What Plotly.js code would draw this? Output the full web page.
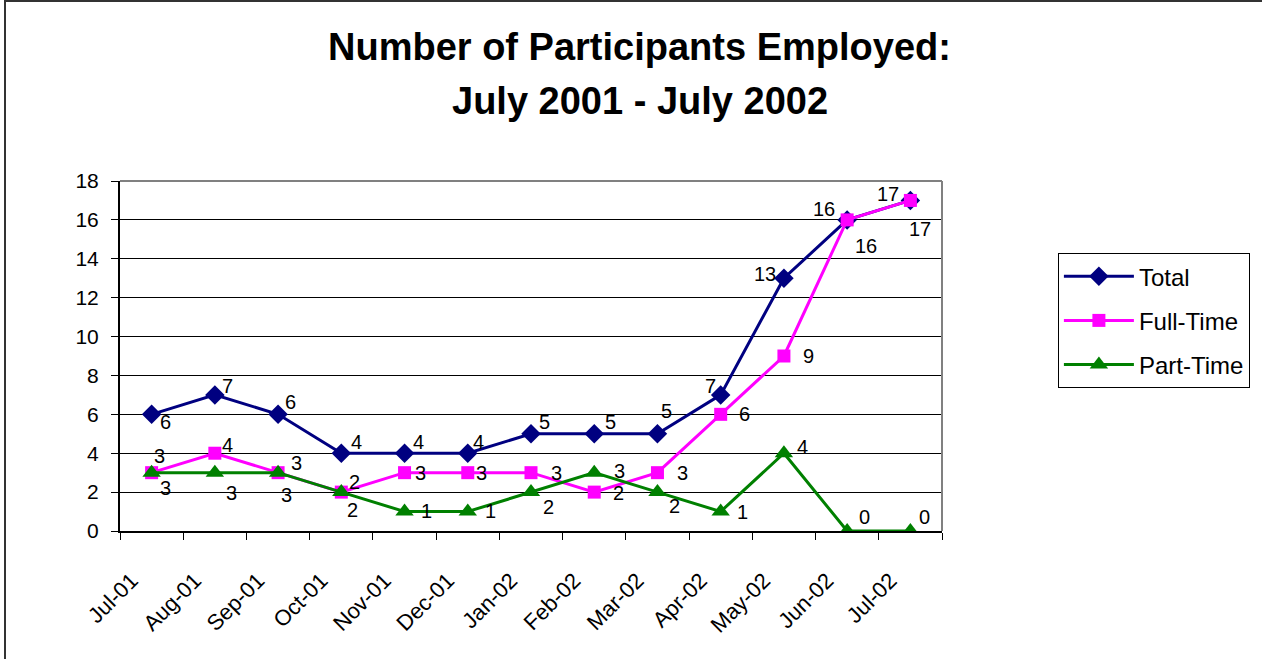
<!DOCTYPE html>
<html>
<head>
<meta charset="utf-8">
<script src="https://cdn.plot.ly/plotly-3.0.1.min.js"></script>
<style>
  html, body { margin: 0; padding: 0; background: #fff; }
  #wrap { position: relative; width: 1262px; height: 659px; overflow: hidden; }
  #chart { position: absolute; left: 0; top: 0; width: 1262px; height: 659px; }
  #frame { position: absolute; left: 4px; top: 0px; width: 1262px; height: 700px;
           border-left: 2px solid #333; border-top: 2px solid #333; pointer-events: none; }
</style>
</head>
<body>
<div id="wrap">
  <div id="chart"></div>
  <div id="frame"></div>
</div>
<script>
// ---- data ----
const titleLines = ["Number of Participants Employed:", "July 2001 - July 2002"];
const months = ["Jul-01","Aug-01","Sep-01","Oct-01","Nov-01","Dec-01","Jan-02","Feb-02","Mar-02","Apr-02","May-02","Jun-02","Jul-02"];
const total    = [6, 7, 6, 4, 4, 4, 5, 5, 5, 7, 13, 16, 17];
const fullTime = [3, 4, 3, 2, 3, 3, 3, 2, 3, 6, 9, 16, 17];
const partTime = [3, 3, 3, 2, 1, 1, 2, 3, 2, 1, 4, 0, 0];

// ---- label offsets (screen px: dx right, dy down) ----
const totalOff = [[14,8],[13,-9],[12,-12],[15,-11],[14,-11],[11,-11],[13,-12],[16,-12],[9,-23],[-10,-9],[-19,-4],[-23,-11],[10,29]];
const fullOff  = [[8,-17],[13,-8],[18,-10],[13,-10],[16,0],[14,0],[25,0],[24,1],[25,0],[24,0],[25,0],[19,26],[-22,-6]];
const partOff  = [[14,15],[17,20],[8,22],[11,18],[22,-1],[23,-1],[17,15],[25,-2],[17,14],[22,0],[19,-6],[17,-14],[14,-14]];

const FONT = '"Liberation Sans", Arial, sans-serif';

const traces = [
  { name: 'Total', x: months, y: total, type: 'scatter', mode: 'lines+markers',
    line: {color: '#000080', width: 3}, marker: {symbol: 'diamond', size: 15, color: '#000080'},
    legendgroup: 'a' },
  { name: 'Full-Time', x: months, y: fullTime, type: 'scatter', mode: 'lines+markers',
    line: {color: '#FF00FF', width: 3}, marker: {symbol: 'square', size: 13, color: '#FF00FF'},
    legendgroup: 'b' },
  { name: 'Part-Time', x: months, y: partTime, type: 'scatter', mode: 'lines+markers',
    line: {color: '#008000', width: 3}, marker: {symbol: 'triangle-up', size: 16, color: '#008000'},
    legendgroup: 'c' }
];

const annotations = [];
function addLabels(vals, offs) {
  vals.forEach((v, i) => {
    annotations.push({
      x: months[i], y: v, xref: 'x', yref: 'y', text: String(v), showarrow: false,
      xshift: offs[i][0], yshift: -offs[i][1],
      font: {family: FONT, size: 20, color: '#000'}
    });
  });
}
addLabels(total, totalOff);
addLabels(fullTime, fullOff);
addLabels(partTime, partOff);

// title lines as paper annotations
const titleY = [1.383, 1.228];
titleLines.forEach((t, i) => {
  annotations.push({
    x: 0.632, y: titleY[i], xref: 'paper', yref: 'paper', xanchor: 'center', yanchor: 'middle',
    text: '<b>' + t + '</b>', showarrow: false,
    font: {family: FONT, size: 38, color: '#000'}
  });
});

const layout = {
  width: 1262, height: 659,
  margin: {l: 120, r: 320, t: 181, b: 128},
  paper_bgcolor: 'rgba(0,0,0,0)', plot_bgcolor: '#fff',
  font: {family: FONT, color: '#000'},
  xaxis: {
    type: 'category', range: [-0.5, 12.5], tickson: 'boundaries',
    ticks: 'outside', ticklen: 7, tickcolor: '#000', tickwidth: 1,
    showline: true, linecolor: '#000', linewidth: 2,
    showgrid: false, tickangle: -45,
    ticklabelstandoff: 26, ticklabelshift: -20,
    tickfont: {family: FONT, size: 22, color: '#000'}
  },
  yaxis: {
    range: [0, 18], dtick: 2, tick0: 0,
    ticks: 'outside', ticklen: 7, tickcolor: '#000', tickwidth: 1,
    showline: true, linecolor: '#000', linewidth: 2,
    showgrid: true, gridcolor: '#000', gridwidth: 1, zeroline: false,
    ticklabelstandoff: 8,
    tickfont: {family: FONT, size: 21, color: '#000'}
  },
  shapes: [
    {type: 'line', xref: 'paper', yref: 'paper', x0: 0, x1: 1, y0: 1, y1: 1, line: {color: '#808080', width: 2}},
    {type: 'line', xref: 'paper', yref: 'paper', x0: 1, x1: 1, y0: 0, y1: 1, line: {color: '#808080', width: 2}}
  ],
  legend: {
    x: 1.141, y: 0.794, xanchor: 'left', yanchor: 'top',
    bordercolor: '#000', borderwidth: 1, bgcolor: '#fff',
    font: {family: FONT, size: 24, color: '#000'},
    traceorder: 'grouped', tracegroupgap: 10, itemwidth: 70
  },
  annotations: annotations,
  showlegend: true
};

Plotly.newPlot('chart', traces, layout, {displayModeBar: false, staticPlot: true});
</script>
</body>
</html>
